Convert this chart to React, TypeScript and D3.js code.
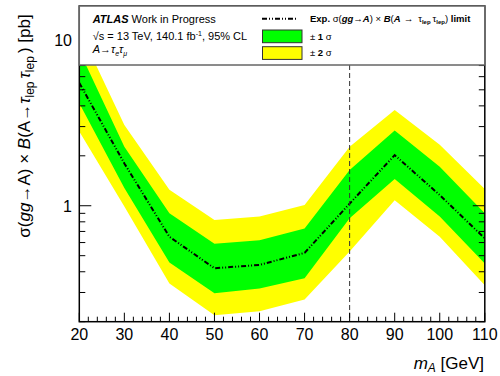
import React from 'react'
import * as d3 from 'd3'

// mass points and limits (pb)
const masses = [20, 30, 40, 50, 60, 70, 80, 90, 100, 110]
const expected = [5.5, 1.8, 0.65, 0.42, 0.44, 0.52, 1.03, 2.02, 1.16, 0.635]
const plus1 = [8.6, 2.27, 0.9, 0.59, 0.62, 0.73, 1.64, 2.84, 1.72, 0.9]
const minus1 = [4.15, 1.28, 0.455, 0.297, 0.317, 0.365, 0.84, 1.45, 0.86, 0.449]
const plus2 = [11.5, 3.07, 1.25, 0.82, 0.86, 1.01, 2.27, 3.78, 2.33, 1.26]
const minus2 = [2.8, 0.99, 0.34, 0.219, 0.231, 0.272, 0.53, 1.08, 0.65, 0.332]

const xTicks = [20, 30, 40, 50, 60, 70, 80, 90, 100, 110]
const yMajor = [1, 10]
const yMinor = [0.2, 0.3, 0.4, 0.5, 0.6, 0.7, 0.8, 0.9, 2, 3, 4, 5, 6, 7, 8, 9]
const markerMass = 80

const margin = { left: 79.3, right: 484.8, top: 6, bottom: 321.7 }
const font = "'Liberation Sans', Arial, Helvetica, sans-serif"

const App = () => {
  const x = d3.scaleLinear().domain([20, 110]).range([margin.left, margin.right])
  const y = d3.scaleLog().domain([0.2, 16]).range([margin.bottom, margin.top])

  const band = (lo: number[], hi: number[]) =>
    d3
      .area<number>()
      .x((_, i) => x(masses[i]))
      .y0((_, i) => y(lo[i]))
      .y1((_, i) => y(hi[i]))(masses) || ''

  const line = d3
    .line<number>()
    .x((d) => x(d))
    .y((_, i) => y(expected[i]))(masses) || ''

  const xMinor = d3.range(20, 111, 2).filter((v) => v % 10 !== 0)
  const legendBottom = 65
  const dash = '5,2,1,2,1,2'

  return (
    <svg width={500} height={376} style={{ position: 'absolute', left: 0, top: 0, fontFamily: font }}>
      <rect width={500} height={376} fill='white' />
      <defs>
        <clipPath id='plot'>
          <rect x={margin.left} y={margin.top} width={margin.right - margin.left} height={margin.bottom - margin.top} />
        </clipPath>
      </defs>
      <g clipPath='url(#plot)'>
        <path d={band(minus2, plus2)} fill='#ffff00' />
        <path d={band(minus1, plus1)} fill='#00ff00' />
        <path d={line} fill='none' stroke='black' strokeWidth={2} strokeDasharray={dash} />
      </g>
      <line x1={x(markerMass)} x2={x(markerMass)} y1={legendBottom} y2={margin.bottom} stroke='#333' strokeWidth={1} strokeDasharray='5,3' />

      {/* ticks */}
      <g stroke='black' strokeWidth={1}>
        {xTicks.map((t) => (
          <line key={'xb' + t} x1={x(t)} x2={x(t)} y1={margin.bottom} y2={margin.bottom - 9} />
        ))}
        {xMinor.map((t) => (
          <line key={'xm' + t} x1={x(t)} x2={x(t)} y1={margin.bottom} y2={margin.bottom - 5} />
        ))}
        {yMajor.map((t) => (
          <g key={'ym' + t}>
            <line x1={margin.left} x2={margin.left + 12} y1={y(t)} y2={y(t)} />
            <line x1={margin.right} x2={margin.right - 12} y1={y(t)} y2={y(t)} />
          </g>
        ))}
        {yMinor.map((t) => (
          <g key={'yn' + t}>
            <line x1={margin.left} x2={margin.left + 6} y1={y(t)} y2={y(t)} />
            <line x1={margin.right} x2={margin.right - 6} y1={y(t)} y2={y(t)} />
          </g>
        ))}
      </g>
      <rect
        x={margin.left}
        y={margin.top}
        width={margin.right - margin.left}
        height={margin.bottom - margin.top}
        fill='none'
        stroke='black'
        strokeWidth={1.5}
      />

      {/* legend */}
      <rect
        x={margin.left}
        y={margin.top}
        width={margin.right - margin.left}
        height={legendBottom - margin.top}
        fill='white'
        stroke='#666'
        strokeWidth={1.5}
      />
      <g fontSize={11} fill='black'>
        <text x={92.7} y={23}>
          <tspan fontWeight='bold' fontStyle='italic'>ATLAS</tspan> Work in Progress
        </text>
        <text x={92.7} y={39.5}>
          √s = 13 TeV, 140.1 fb<tspan dy={-4} fontSize={7}>-1</tspan>
          <tspan dy={4}>, 95% CL</tspan>
        </text>
        <text x={92.7} y={53}>
          <tspan fontStyle='italic'>A</tspan>→<tspan fontStyle='italic'>τ</tspan>
          <tspan dy={2.5} fontSize={7} fontStyle='italic'>e</tspan>
          <tspan dy={-2.5} fontStyle='italic'>τ</tspan>
          <tspan dy={2.5} fontSize={7} fontStyle='italic'>μ</tspan>
        </text>
      </g>
      <line x1={262} x2={298} y1={18.7} y2={18.7} stroke='black' strokeWidth={2} strokeDasharray={dash} />
      <rect x={262.5} y={30} width={39.5} height={12.7} fill='#00ff00' stroke='#333' strokeWidth={1} />
      <rect x={262.5} y={46.7} width={39.5} height={12.7} fill='#ffff00' stroke='#333' strokeWidth={1} />
      <g fontSize={9.5} fill='black'>
        <text x={310} y={22}>
          <tspan fontWeight='bold'>Exp. </tspan>σ(<tspan fontWeight='bold' fontStyle='italic'>gg</tspan>
          <tspan fontWeight='bold'>→</tspan>
          <tspan fontWeight='bold' fontStyle='italic'>A</tspan>) × <tspan fontWeight='bold' fontStyle='italic'>B</tspan>(
          <tspan fontWeight='bold' fontStyle='italic'>A</tspan>
          <tspan dx={3}>→</tspan>
          <tspan dx={5}>τ</tspan>
          <tspan dy={2} fontSize={6} fontWeight='bold'>lep</tspan>
          <tspan dy={-2} dx={2}>τ</tspan>
          <tspan dy={2} fontSize={6} fontWeight='bold'>lep</tspan>
          <tspan dy={-2}>) </tspan>
          <tspan fontWeight='bold'>limit</tspan>
        </text>
        <text x={310} y={39.5}>
          ± <tspan fontWeight='bold'>1</tspan> σ
        </text>
        <text x={310} y={56}>
          ± <tspan fontWeight='bold'>2</tspan> σ
        </text>
      </g>

      {/* tick labels */}
      <g fontSize={16} fill='black' textAnchor='middle'>
        {xTicks.map((t) => (
          <text key={'xl' + t} x={x(t)} y={339.5}>
            {t}
          </text>
        ))}
      </g>
      <g fontSize={16} fill='black' textAnchor='end'>
        {yMajor.map((t) => (
          <text key={'yl' + t} x={72} y={y(t) + 6}>
            {t}
          </text>
        ))}
      </g>

      {/* axis titles */}
      <text x={484} y={369} fontSize={17} textAnchor='end'>
        <tspan fontStyle='italic'>m</tspan>
        <tspan dy={3} fontSize={12} fontStyle='italic'>A</tspan>
        <tspan dy={-3}> [GeV]</tspan>
      </text>
      <text transform='translate(30,126) rotate(-90)' fontSize={17} textAnchor='middle'>
        σ(<tspan fontStyle='italic'>gg</tspan>→A) × <tspan fontStyle='italic'>B</tspan>(A→
        <tspan fontStyle='italic'>τ</tspan>
        <tspan dy={3.5} fontSize={12}>lep</tspan>
        <tspan dy={-3.5} dx={3} fontStyle='italic'>τ</tspan>
        <tspan dy={3.5} fontSize={12}>lep</tspan>
        <tspan dy={-3.5} dx={3}>) [pb]</tspan>
      </text>
    </svg>
  )
}

export default App
